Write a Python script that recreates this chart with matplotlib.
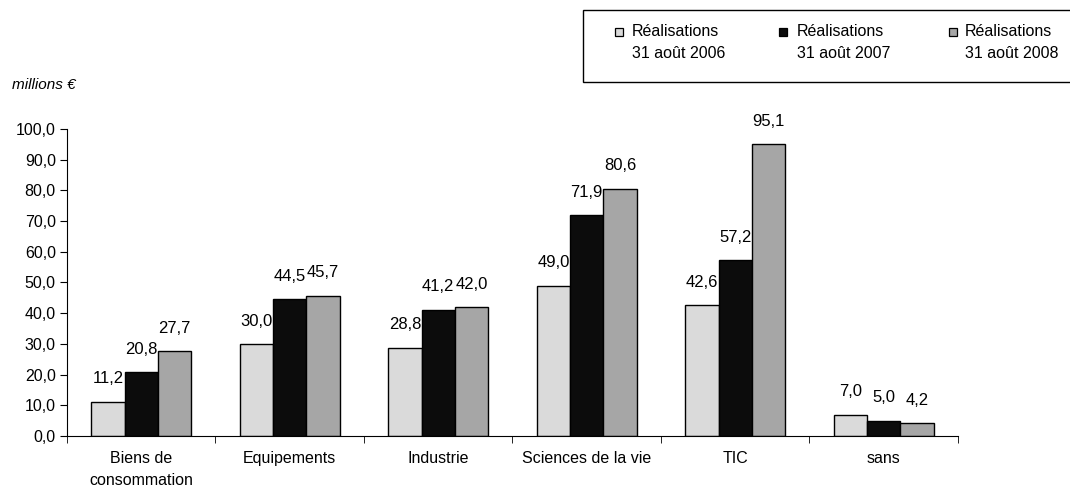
import numpy as np
import matplotlib
matplotlib.use('Agg')
import matplotlib.pyplot as plt
from matplotlib.patches import Rectangle

plt.rcParams['font.family'] = ['Liberation Sans', 'DejaVu Sans']

categories = ['Biens de\nconsommation', 'Equipements', 'Industrie',
              'Sciences de la vie', 'TIC', 'sans']
series_names = ['Réalisations', 'Réalisations', 'Réalisations']
series_dates = ['31 août 2006', '31 août 2007', '31 août 2008']
v2006 = [11.2, 30.0, 28.8, 49.0, 42.6, 7.0]
v2007 = [20.8, 44.5, 41.2, 71.9, 57.2, 5.0]
v2008 = [27.7, 45.7, 42.0, 80.6, 95.1, 4.2]
yticks = [0, 10, 20, 30, 40, 50, 60, 70, 80, 90, 100]

colors = ['#dadada', '#0c0c0c', '#a6a6a6']

def fr(v):
    return f'{v:.1f}'.replace('.', ',')

fig = plt.figure(figsize=(10.7, 4.94), dpi=100)
ax = fig.add_axes([0.0626, 0.1174, 0.8327, 0.6215])

x = np.arange(len(categories))
w = 0.224
for i, vals in enumerate([v2006, v2007, v2008]):
    bars = ax.bar(x + (i - 1) * w, vals, w, color=colors[i],
                  edgecolor='black', linewidth=1.0, zorder=2)
    ax.bar_label(bars, labels=[fr(v) for v in vals], padding=11, fontsize=12)

ax.set_xlim(-0.5, len(categories) - 0.5)
ax.set_ylim(0, 100)
ax.set_yticks(yticks)
ax.set_yticklabels([fr(v) for v in yticks], fontsize=11.5)
ax.set_xticks(x)
ax.set_xticklabels(categories, fontsize=11.5, linespacing=1.6)
ax.set_xticks(np.arange(len(categories) + 1) - 0.5, minor=True)
ax.tick_params(axis='x', which='major', length=0, pad=11)
ax.tick_params(axis='x', which='minor', length=5, direction='out')
ax.tick_params(axis='y', length=5, direction='out', pad=3)
for s in ['top', 'right']:
    ax.spines[s].set_visible(False)

fig.text(12 / 1070, 1 - 85 / 494, 'millions €', fontsize=11, style='italic',
         va='center', ha='left')

# legend box
fig.patches.append(Rectangle((583 / 1070, 1 - 82 / 494), 0.5, 72 / 494,
                             transform=fig.transFigure, facecolor='white',
                             edgecolor='black', linewidth=1.0))
sq_x = [619, 783, 953]
tx_x = [632, 797, 965]
for i in range(3):
    fig.patches.append(Rectangle(((sq_x[i] - 4) / 1070, 1 - 36 / 494),
                                 8 / 1070, 8 / 494, transform=fig.transFigure,
                                 facecolor=colors[i], edgecolor='black',
                                 linewidth=0.9))
    fig.text(tx_x[i] / 1070, 1 - 32 / 494, series_names[i], fontsize=11.5,
             va='center', ha='left')
    fig.text(tx_x[i] / 1070, 1 - 54 / 494, series_dates[i], fontsize=11.5,
             va='center', ha='left')

fig.savefig('out.png', dpi=100)
